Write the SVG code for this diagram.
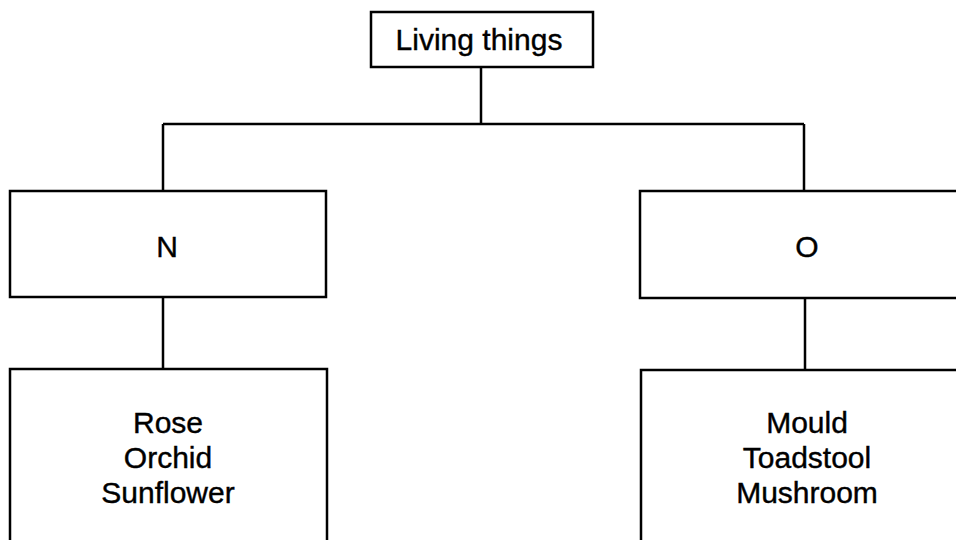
<svg xmlns="http://www.w3.org/2000/svg" width="956" height="540" viewBox="0 0 956 540">
<style>
.box{fill:#fff;stroke:#000;stroke-width:2.5}
.conn{fill:none;stroke:#000;stroke-width:2.5}
text{font-family:"Liberation Sans",Arial,sans-serif;font-size:30px;fill:#000;text-anchor:middle;stroke:#000;stroke-width:0.4}
</style>
<rect width="956" height="540" fill="#fff"/>
<g id="connectors">
<path class="conn" d="M481 67 V124 M163 124 H804 M163 124 V191 M804 124 V191"/>
<path class="conn" d="M163 297 V369 M805 298 V370"/>
</g>
<g id="living-things">
<rect class="box" x="371" y="12" width="222" height="55"/>
<text x="479" y="50">Living things</text>
</g>
<g id="N">
<rect class="box" x="10" y="191" width="316" height="106"/>
<text x="167" y="257">N</text>
</g>
<g id="O">
<rect class="box" x="640" y="191" width="330" height="107"/>
<text x="807" y="257">O</text>
</g>
<g id="plants">
<rect class="box" x="10" y="369" width="317" height="200"/>
<text x="168" y="433">Rose</text>
<text x="168" y="468">Orchid</text>
<text x="168" y="503">Sunflower</text>
</g>
<g id="fungi">
<rect class="box" x="641" y="370" width="330" height="200"/>
<text x="807" y="433">Mould</text>
<text x="807" y="468">Toadstool</text>
<text x="807" y="503">Mushroom</text>
</g>
</svg>
